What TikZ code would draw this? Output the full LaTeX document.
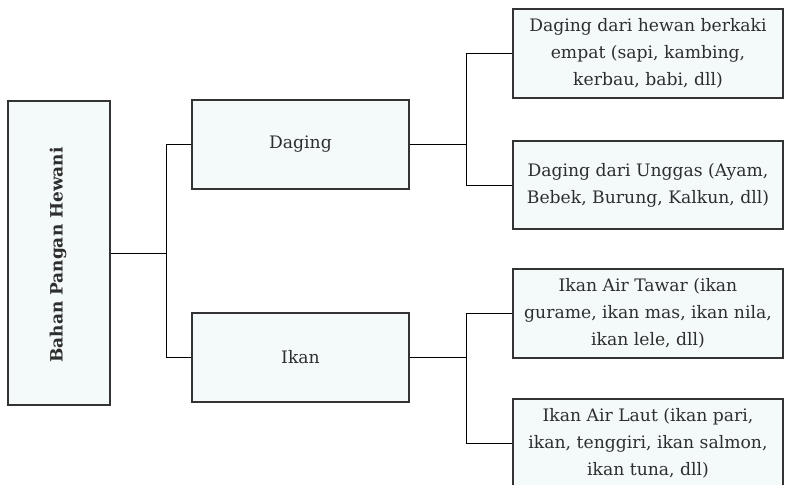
\documentclass[tikz,border=0pt]{standalone}
\usepackage{fontspec}
\setmainfont{DejaVu Serif}
\begin{document}
\begin{tikzpicture}[x=1pt,y=-1pt,
  box/.style={draw=boxline, line width=1.6pt, fill=boxfill, inner sep=0pt,
    text=textgray, align=center, font=\fontsize{17.2}{27}\selectfont},
  link/.style={draw=black, line width=1pt}]
\definecolor{boxline}{HTML}{333333}
\definecolor{boxfill}{HTML}{F4FAFA}
\definecolor{textgray}{HTML}{2E2E2E}
\clip (0,0) rectangle (786,484);
\fill[white] (0,0) rectangle (786,484);

% root of the tree
\node[box, minimum width=102pt, minimum height=304pt] (root) at (59,253) {};
\node[rotate=90, text=textgray, font=\fontsize{17}{20}\selectfont\bfseries] (roottext) at ([shift={(-1,2)}]root.center) {Bahan Pangan Hewani};

% second level
\node[box, minimum width=217pt, minimum height=89pt] (daging) at (300.5,144.5) {Daging};
\node[box, minimum width=217pt, minimum height=89pt] (ikan) at (300.5,357.5) {Ikan};

% leaves
\node[box, minimum width=270pt, minimum height=89pt] (r1) at (648,53.5)
  {Daging dari hewan berkaki\\empat (sapi, kambing,\\kerbau, babi, dll)};
\node[box, minimum width=270pt, minimum height=88pt] (r2) at (648,185)
  {Daging dari Unggas (Ayam,\\Bebek, Burung, Kalkun, dll)};
\node[box, minimum width=270pt, minimum height=89pt] (r3) at (648,313.5)
  {Ikan Air Tawar (ikan\\gurame, ikan mas, ikan nila,\\ikan lele, dll)};
\node[box, minimum width=270pt, minimum height=89pt] (r4) at (648,443.5)
  {Ikan Air Laut (ikan pari,\\ikan, tenggiri, ikan salmon,\\ikan tuna, dll)};

% connectors
\draw[link] (root.east) -- ++(56,0) coordinate (j1);
\draw[link] (daging.west) -| (j1) |- (ikan.west);
\draw[link] (daging.east) -- ++(57,0) coordinate (j2);
\draw[link] (r1.west) -| (j2) |- (r2.west);
\draw[link] (ikan.east) -- ++(57,0) coordinate (j3);
\draw[link] (r3.west) -| (j3) |- (r4.west);
\end{tikzpicture}
\end{document}
